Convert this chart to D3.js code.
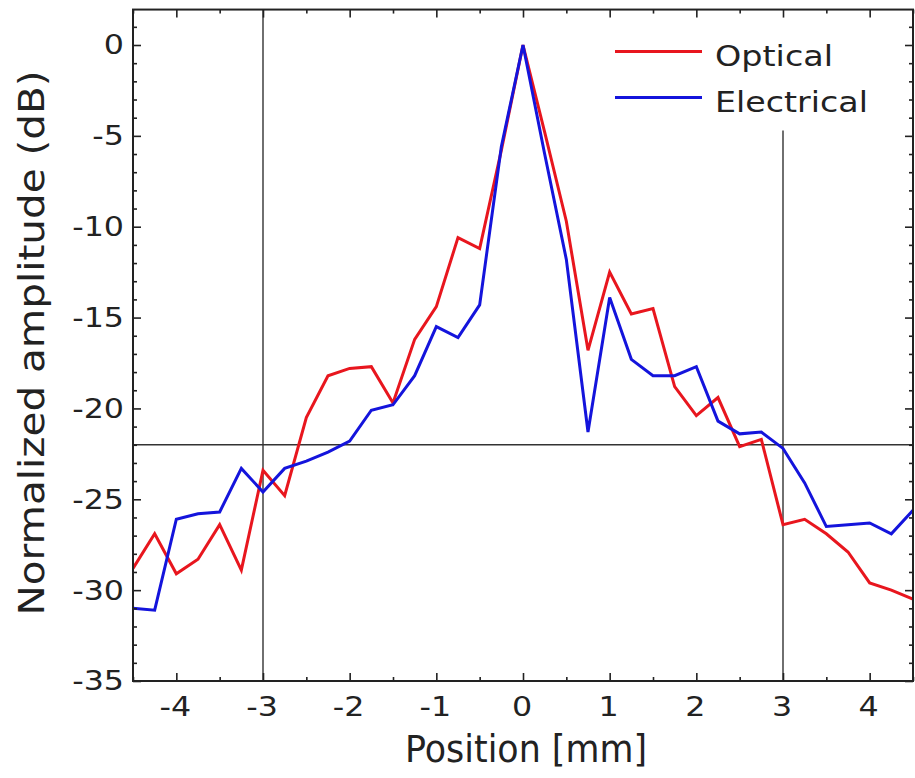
<!DOCTYPE html>
<html>
<head>
<meta charset="utf-8">
<script src="https://cdn.jsdelivr.net/npm/d3@7"></script>
<style>
  html, body { margin: 0; padding: 0; background: #fff; }
  svg { display: block; }
  text { font-family: "DejaVu Sans", Verdana, sans-serif; fill: #222; }
</style>
</head>
<body>
<svg id="chart" width="915" height="778"></svg>
<script>
// Beam profile: normalized amplitude vs. position, sampled every 0.25 mm
const positions = [-4.5, -4.25, -4, -3.75, -3.5, -3.25, -3, -2.75, -2.5, -2.25, -2, -1.75, -1.5, -1.25, -1, -0.75, -0.5, -0.25,
  0, 0.25, 0.5, 0.75, 1, 1.25, 1.5, 1.75, 2, 2.25, 2.5, 2.75, 3, 3.25, 3.5, 3.75, 4, 4.25, 4.5];

const optical = [-28.8, -26.9, -29.1, -28.3, -26.4, -28.9, -23.4, -24.8, -20.5, -18.2, -17.8, -17.7, -19.7, -16.2, -14.4, -10.6, -11.2, -5.8,
  0, -4.8, -9.7, -16.8, -12.5, -14.8, -14.5, -18.8, -20.4, -19.4, -22.1, -21.7, -26.4, -26.1, -26.9, -27.9, -29.6, -30.0, -30.5];

const electrical = [-31.0, -31.1, -26.1, -25.8, -25.7, -23.3, -24.6, -23.3, -22.9, -22.4, -21.8, -20.1, -19.8, -18.2, -15.5, -16.1, -14.3, -5.6,
  0, -6.0, -11.8, -21.3, -13.9, -17.3, -18.2, -18.2, -17.7, -20.7, -21.4, -21.3, -22.2, -24.1, -26.5, -26.4, -26.3, -26.9, -25.6];

const seriesNames = ["Optical", "Electrical"];
const seriesColors = ["#e8161e", "#1414dc"];

const xTicks = [-4, -3, -2, -1, 0, 1, 2, 3, 4];
const yTicks = [0, -5, -10, -15, -20, -25, -30, -35];

// Guide lines marking the -22 dB level and the ±3 mm positions
const guideLevel = -22;
const guidePositions = [-3, 3];
const guideTop = [2, -4.7]; // upper end of each vertical guide (dB)

const svg = d3.select("#chart");
const x = d3.scaleLinear().domain([-4.5, 4.5]).range([133, 913]);
const y = d3.scaleLinear().domain([-35, 0]).range([681, 45]);
const yMax = 1.95;

const plotLeft = x(-4.5), plotRight = x(4.5), plotTop = y(yMax), plotBottom = y(-35);

svg.append("defs").append("clipPath").attr("id", "plotClip")
  .append("rect").attr("x", plotLeft).attr("y", plotTop)
  .attr("width", plotRight - plotLeft).attr("height", plotBottom - plotTop);

const axisColor = "#222";

// Guide lines
const guides = svg.append("g").attr("stroke", "#333").attr("stroke-width", 1.4).attr("clip-path", "url(#plotClip)");
guides.append("line").attr("x1", plotLeft).attr("x2", plotRight).attr("y1", y(guideLevel)).attr("y2", y(guideLevel));
guidePositions.forEach((p, i) => {
  guides.append("line").attr("x1", x(p)).attr("x2", x(p)).attr("y1", plotBottom).attr("y2", y(guideTop[i]));
});

// Data lines (electrical drawn over optical)
const line = d3.line().x((d, i) => x(positions[i])).y(d => y(d));
const plot = svg.append("g").attr("clip-path", "url(#plotClip)");
[optical, electrical].forEach((vals, k) => {
  plot.append("path").datum(vals)
    .attr("fill", "none").attr("stroke", seriesColors[k])
    .attr("stroke-width", 3).attr("stroke-linejoin", "miter").attr("d", line);
});

// Inward-pointing axes on all four sides
const majorLen = 8, minorLen = 4;
const xMinor = d3.range(-4.5, 4.51, 0.5).filter(v => !Number.isInteger(v));
const yMinor = d3.range(-35, 1.01, 1).filter(v => v % 5 !== 0);

function drawAxis(axis, offsetTransform) {
  const g = svg.append("g").attr("transform", offsetTransform).call(axis);
  g.select(".domain").remove();
  g.selectAll(".tick line").attr("stroke", axisColor).attr("stroke-width", 1.6);
  return g;
}

// bottom
drawAxis(d3.axisTop(x).tickValues(xTicks).tickSize(majorLen).tickFormat(""), `translate(0,${plotBottom})`);
drawAxis(d3.axisTop(x).tickValues(xMinor).tickSize(minorLen).tickFormat(""), `translate(0,${plotBottom})`);
// top
drawAxis(d3.axisBottom(x).tickValues(xTicks).tickSize(majorLen).tickFormat(""), `translate(0,${plotTop})`);
drawAxis(d3.axisBottom(x).tickValues(xMinor).tickSize(minorLen).tickFormat(""), `translate(0,${plotTop})`);
// left
drawAxis(d3.axisRight(y).tickValues(yTicks).tickSize(majorLen).tickFormat(""), `translate(${plotLeft},0)`);
drawAxis(d3.axisRight(y).tickValues(yMinor).tickSize(minorLen).tickFormat(""), `translate(${plotLeft},0)`);
// right
drawAxis(d3.axisLeft(y).tickValues(yTicks).tickSize(majorLen).tickFormat(""), `translate(${plotRight},0)`);
drawAxis(d3.axisLeft(y).tickValues(yMinor).tickSize(minorLen).tickFormat(""), `translate(${plotRight},0)`);

// Frame
svg.append("rect").attr("x", plotLeft).attr("y", plotTop)
  .attr("width", plotRight - plotLeft).attr("height", plotBottom - plotTop)
  .attr("fill", "none").attr("stroke", axisColor).attr("stroke-width", 2);

// Tick labels (wide numerals: stretched horizontally)
const labelStretch = 1.22;
svg.append("g").selectAll("text").data(xTicks).join("text")
  .attr("transform", d => `translate(${x(d) - 1},716) scale(${labelStretch},1)`)
  .attr("text-anchor", "middle").attr("font-size", 26)
  .text(d => d);

svg.append("g").selectAll("text").data(yTicks).join("text")
  .attr("transform", d => `translate(124,${y(d)}) scale(${labelStretch},1)`)
  .attr("dy", "0.36em")
  .attr("text-anchor", "end").attr("font-size", 26)
  .text(d => d);

// Axis titles
svg.append("text").attr("x", 526).attr("y", 762).attr("text-anchor", "middle")
  .attr("font-size", 37).attr("textLength", 242).attr("lengthAdjust", "spacingAndGlyphs")
  .text("Position [mm]");

svg.append("text").attr("transform", "translate(44,343) rotate(-90)").attr("text-anchor", "middle")
  .attr("font-size", 35).attr("textLength", 545).attr("lengthAdjust", "spacingAndGlyphs")
  .text("Normalized amplitude (dB)");

// Legend
const legendRows = [{ y: 51.5, ty: 65.5 }, { y: 97.5, ty: 111.5 }];
const legend = svg.append("g");
seriesNames.forEach((name, i) => {
  legend.append("line").attr("x1", 615).attr("x2", 702)
    .attr("y1", legendRows[i].y).attr("y2", legendRows[i].y)
    .attr("stroke", seriesColors[i]).attr("stroke-width", 3);
  legend.append("text").attr("x", 715).attr("y", legendRows[i].ty)
    .attr("font-size", 29)
    .attr("textLength", i === 0 ? 118 : 153).attr("lengthAdjust", "spacingAndGlyphs")
    .text(name);
});
</script>
</body>
</html>
